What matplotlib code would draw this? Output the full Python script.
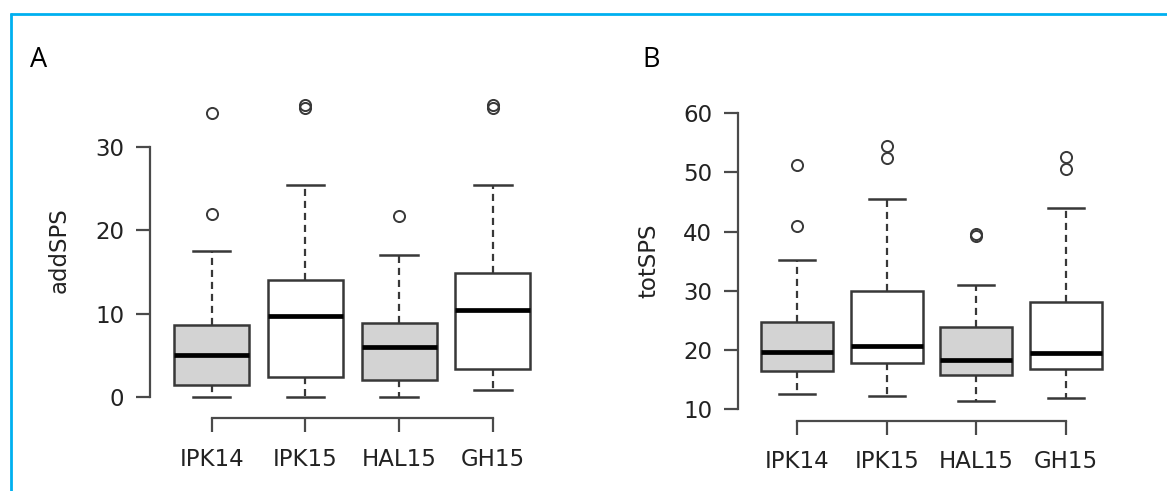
import matplotlib
matplotlib.use("Agg")
import matplotlib.pyplot as plt
from matplotlib.lines import Line2D

# ---------------- data ----------------
groups = ["IPK14", "IPK15", "HAL15", "GH15"]
fills = ["#d3d3d3", "white", "#d3d3d3", "white"]

# Panel A: addSPS
add_whislo = [0.0, 0.0, 0.0, 0.9]
add_q1 = [1.5, 2.45, 2.1, 3.37]
add_med = [5.03, 9.7, 6.03, 10.38]
add_q3 = [8.68, 14.02, 8.83, 14.82]
add_whishi = [17.5, 25.4, 17.0, 25.4]
add_fliers = [[21.9, 34.0], [34.7, 35.0], [21.7], [34.7, 35.0]]
add_yticks = [0, 10, 20, 30]

# Panel B: totSPS
tot_whislo = [12.5, 12.15, 11.35, 11.85]
tot_q1 = [16.5, 17.7, 15.8, 16.75]
tot_med = [19.6, 20.6, 18.2, 19.4]
tot_q3 = [24.65, 30.0, 23.8, 28.15]
tot_whishi = [35.2, 45.45, 31.0, 44.0]
tot_fliers = [[40.9, 51.3], [52.4, 54.4], [39.3, 39.6], [50.6, 52.6]]
tot_yticks = [10, 20, 30, 40, 50, 60]

W, H = 1167, 491
DPI = 100
fig = plt.figure(figsize=(W / DPI, H / DPI), dpi=DPI)
fig.patch.set_facecolor("white")

EDGE = "#383838"
AXC = "#4a4a4a"
TXT = "#222222"
FS = 16.5


def make_stats(lo, q1, med, q3, hi, fl):
    return [dict(whislo=lo[i], q1=q1[i], med=med[i], q3=q3[i], whishi=hi[i],
                 fliers=fl[i], label=groups[i]) for i in range(len(groups))]


def draw_panel(rect_px, ylim, stats, yticks, ylabel, ylabel_xy, letter, letter_xy):
    l, r, t, b = rect_px
    ax = fig.add_axes([l / W, 1 - b / H, (r - l) / W, (b - t) / H])
    bp = ax.bxp(stats, positions=[1, 2, 3, 4], widths=0.8, patch_artist=True,
                showcaps=True, capwidths=0.4,
                boxprops=dict(edgecolor=EDGE, linewidth=1.8),
                whiskerprops=dict(color=EDGE, linewidth=1.6, linestyle=(0, (3.2, 2.2))),
                capprops=dict(color=EDGE, linewidth=1.8),
                medianprops=dict(color="black", linewidth=3.4, solid_capstyle="butt"),
                flierprops=dict(marker="o", markerfacecolor="none",
                                markeredgecolor=EDGE, markersize=8, markeredgewidth=1.4))
    for patch, fc in zip(bp["boxes"], fills):
        patch.set_facecolor(fc)
    ax.set_xlim(0.34, 4.66)
    ax.set_ylim(*ylim)
    for s in ("top", "right"):
        ax.spines[s].set_visible(False)
    for s in ("left", "bottom"):
        ax.spines[s].set_color(AXC)
        ax.spines[s].set_linewidth(1.6)
    ax.spines["left"].set_bounds(yticks[0], yticks[-1])
    ax.spines["bottom"].set_bounds(1, 4)
    ax.set_xticks([1, 2, 3, 4], labels=groups)
    ax.set_yticks(yticks)
    ax.tick_params(axis="y", length=10, width=1.6, color=AXC, pad=8.5,
                   labelsize=FS, labelcolor=TXT)
    ax.tick_params(axis="x", length=10, width=1.6, color=AXC, pad=11.2,
                   labelsize=FS, labelcolor=TXT)
    ax.patch.set_alpha(0)
    fig.text(ylabel_xy[0] / W, 1 - ylabel_xy[1] / H, ylabel, rotation=90,
             ha="center", va="center", fontsize=FS, color=TXT)
    fig.text(letter_xy[0] / W, 1 - letter_xy[1] / H, letter, ha="left",
             va="baseline", fontsize=19.5, color="black", family="Open Sans")
    return ax


statsA = make_stats(add_whislo, add_q1, add_med, add_q3, add_whishi, add_fliers)
statsB = make_stats(tot_whislo, tot_q1, tot_med, tot_q3, tot_whishi, tot_fliers)

draw_panel((149.9, 554.7, 81.7, 418.3), (-2.55, 37.8), statsA, add_yticks,
           "addSPS", (59.5, 250), "A", (30.5, 66.7))
draw_panel((738.0, 1125.0, 101.5, 420.8), (8, 62), statsB, tot_yticks,
           "totSPS", (648.5, 261), "B", (642.5, 66.7))

# blue frame (top and left)
BLUE = "#00B0F0"
fig.add_artist(Line2D([10 / W, 1.0], [1 - 14 / H, 1 - 14 / H], transform=fig.transFigure,
                      color=BLUE, linewidth=2.0, solid_capstyle="butt"))
fig.add_artist(Line2D([11 / W, 11 / W], [1 - 13 / H, 0.0], transform=fig.transFigure,
                      color=BLUE, linewidth=2.0, solid_capstyle="butt"))

fig.savefig("out.png", dpi=DPI, facecolor="white")
